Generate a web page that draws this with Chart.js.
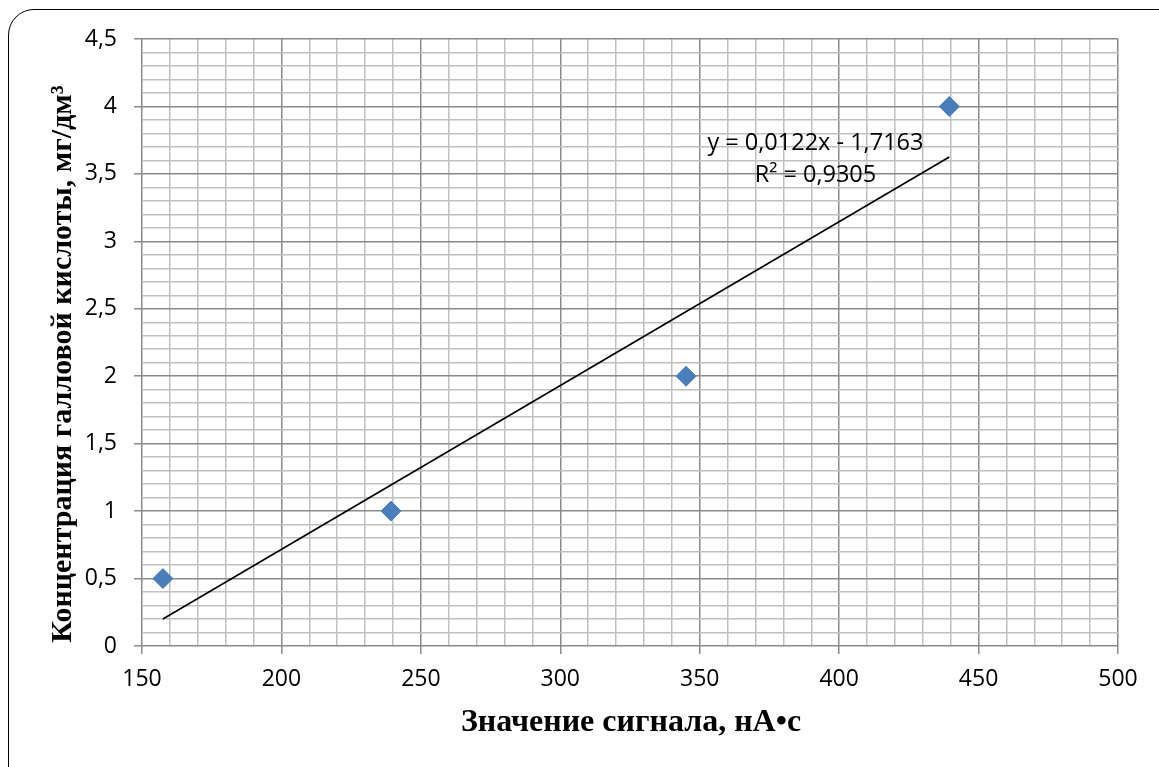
<!doctype html>
<html>
	<head>
		<meta charset="utf-8" />
		<title>Chart</title>
		<style>
			html	{ height: 100% }
			body	{ height: 100%; margin: 0; padding: 0; background: #fff; overflow: hidden }
			#frame	{ position: absolute; left: 8px; top: 9px; width: 1250px; height: 850px; border: 1px solid #000; border-radius: 26px; }
			#wrap	{ position: absolute; left: 0; top: 0; width: 1159px; height: 767px; }
			canvas	{ display: block; }
		</style>
		<script src="https://cdn.jsdelivr.net/npm/chart.js@4/dist/chart.umd.min.js"></script>
	</head>
	<body>
		<div id="frame"></div>
		<div id="wrap"><canvas id="canvas" width="1159" height="767"></canvas></div>

		<script>
			// signal, nA*s
			var signal = [157.5, 239.3, 345.1, 439.5];
			// gallic acid concentration, mg/dm3
			var conc = [0.5, 1, 2, 4];

			// trendline end points
			var trendX = [157.5, 439.5];
			var trendY = [0.2, 3.625];

			var xMajor = [150, 200, 250, 300, 350, 400, 450, 500];
			var yMajor = [0, 0.5, 1, 1.5, 2, 2.5, 3, 3.5, 4, 4.5];
			var xMinorStep = 10;
			var yMinorStep = 0.1;

			var eqLines = ['y = 0,0122x - 1,7163', 'R² = 0,9305'];
			var xTitle = 'Значение сигнала, нА•с';
			var yTitle = 'Концентрация галловой кислоты, мг/дм³';

			function withMinor(major, step) {
				var out = [];
				var lo = major[0], hi = major[major.length - 1];
				var n = Math.round((hi - lo) / step);
				for (var i = 0; i <= n; i++) {
					out.push({ value: Math.round((lo + i * step) * 1000) / 1000 });
				}
				return out;
			}

			function isMajor(list, v) {
				for (var i = 0; i < list.length; i++) {
					if (Math.abs(list[i] - v) < 1e-6) return true;
				}
				return false;
			}

			var labelsPlugin = {
				id: 'labels',
				afterDraw: function (chart) {
					var ctx = chart.ctx;
					var xs = chart.scales.x, ys = chart.scales.y;
					ctx.save();
					ctx.fillStyle = '#000';

					// trendline equation
					ctx.font = '23.5px "Open Sans"';
					ctx.textAlign = 'center';
					ctx.textBaseline = 'middle';
					var ex = xs.getPixelForValue(391.5);
					ctx.fillText(eqLines[0], ex, ys.getPixelForValue(3.73));
					ctx.fillText(eqLines[1], ex, ys.getPixelForValue(3.49));

					// axis titles
					ctx.font = 'bold 32px "Liberation Serif"';
					ctx.fillText(xTitle, 631, 723);
					ctx.font = 'bold 30px "Liberation Serif"';
					ctx.translate(63, 364);
					ctx.rotate(-Math.PI / 2);
					ctx.fillText(yTitle, 0, 0);
					ctx.restore();
				}
			};

			function gridColor(major) {
				return function (c) {
					if (!c.tick) return '#c0c0c0';
					return isMajor(major, c.tick.value) ? '#8a8a8a' : '#c0c0c0';
				};
			}

			function tickColor(major) {
				return function (c) {
					if (!c.tick) return 'rgba(0,0,0,0)';
					return isMajor(major, c.tick.value) ? '#8a8a8a' : 'rgba(0,0,0,0)';
				};
			}

			function createChart() {
				var points = signal.map(function (x, i) { return { x: x, y: conc[i] }; });
				var trend = trendX.map(function (x, i) { return { x: x, y: trendY[i] }; });

				new Chart(document.getElementById('canvas').getContext('2d'), {
					type: 'scatter',
					data: {
						datasets: [
							{
								data: points,
								pointStyle: 'rectRot',
								pointRadius: 10,
								pointHoverRadius: 10,
								backgroundColor: '#4a7ebb',
								borderColor: '#4a7ebb',
								borderWidth: 1,
								order: 1
							},
							{
								type: 'line',
								data: trend,
								borderColor: '#000',
								borderWidth: 1.6,
								pointRadius: 0,
								fill: false,
								order: 0
							}
						]
					},
					options: {
						responsive: false,
						animation: false,
						layout: { padding: { left: 0, top: 39, right: 41, bottom: 0 } },
						plugins: {
							legend: { display: false },
							tooltip: { enabled: false }
						},
						scales: {
							x: {
								type: 'linear',
								min: xMajor[0],
								max: xMajor[xMajor.length - 1],
								afterBuildTicks: function (s) { s.ticks = withMinor(xMajor, xMinorStep); },
								afterFit: function (s) { s.height = 121; },
								border: { display: false },
								grid: {
									color: gridColor(xMajor),
									tickColor: tickColor(xMajor),
									lineWidth: 1.5,
									tickLength: 8,
									drawTicks: true
								},
								ticks: {
									autoSkip: false,
									maxRotation: 0,
									padding: 12,
									color: '#000',
									font: { family: '"Open Sans"', size: 23 },
									callback: function (v) { return isMajor(xMajor, v) ? String(v) : ''; }
								}
							},
							y: {
								type: 'linear',
								min: yMajor[0],
								max: yMajor[yMajor.length - 1],
								afterBuildTicks: function (s) { s.ticks = withMinor(yMajor, yMinorStep); },
								afterFit: function (s) { s.width = 142; },
								border: { display: false },
								grid: {
									color: gridColor(yMajor),
									tickColor: tickColor(yMajor),
									lineWidth: 1.5,
									tickLength: 8,
									drawTicks: true
								},
								ticks: {
									autoSkip: false,
									padding: 17,
									color: '#000',
									font: { family: '"Open Sans"', size: 23 },
									callback: function (v) { return isMajor(yMajor, v) ? String(v).replace('.', ',') : ''; }
								}
							}
						}
					},
					plugins: [labelsPlugin]
				});
			}

			createChart();
		</script>
	</body>
</html>
